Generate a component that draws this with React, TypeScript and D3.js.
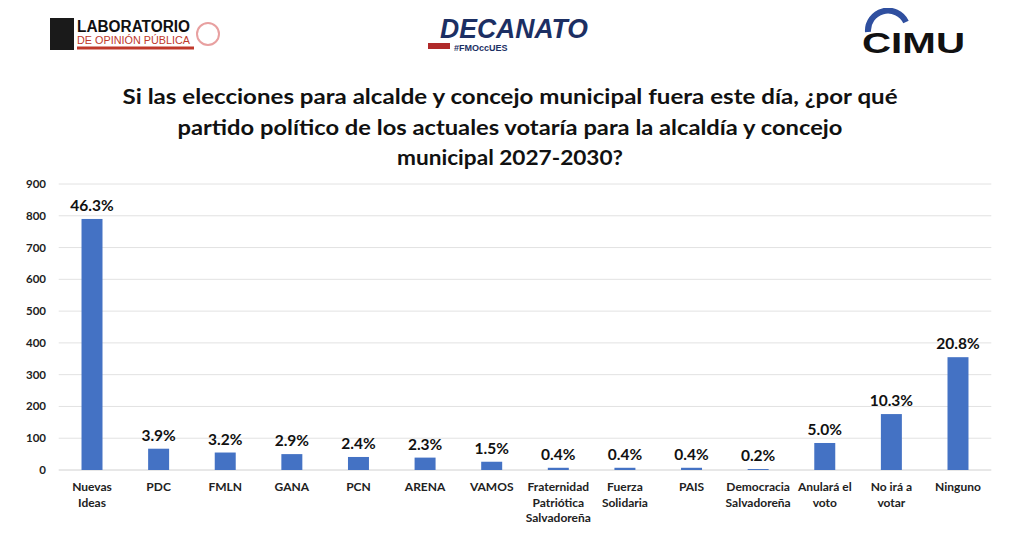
import React, { useEffect, useRef } from 'react';
import * as d3 from 'd3';

const categories: string[][] = [
  ['Nuevas', 'Ideas'],
  ['PDC'],
  ['FMLN'],
  ['GANA'],
  ['PCN'],
  ['ARENA'],
  ['VAMOS'],
  ['Fraternidad', 'Patriótica', 'Salvadoreña'],
  ['Fuerza', 'Solidaria'],
  ['PAIS'],
  ['Democracia', 'Salvadoreña'],
  ['Anulará el', 'voto'],
  ['No irá a', 'votar'],
  ['Ninguno'],
];
const counts = [790, 67, 55, 50, 41, 39, 26, 7, 7, 7, 3, 85, 176, 355];
const percents = ['46.3%', '3.9%', '3.2%', '2.9%', '2.4%', '2.3%', '1.5%', '0.4%', '0.4%', '0.4%', '0.2%', '5.0%', '10.3%', '20.8%'];
const yTicks = [0, 100, 200, 300, 400, 500, 600, 700, 800, 900];
const titleLines = [
  'Si las elecciones para alcalde y concejo municipal fuera este día, ¿por qué',
  'partido político de los actuales votaría para la alcaldía y concejo',
  'municipal 2027-2030?',
];

const W = 1024;
const H = 559;
const FONT = 'Lato, "Open Sans", sans-serif';

const App: React.FC = () => {
  const svgRef = useRef<SVGSVGElement>(null);

  useEffect(() => {
    if (!svgRef.current) return;
    const svg = d3.select(svgRef.current);
    svg.selectAll('*').remove();

    svg.append('rect').attr('width', W).attr('height', H).attr('fill', '#ffffff');

    // logos, roughly sketched
    const lab = svg.append('g');
    lab.append('rect').attr('x', 50).attr('y', 18).attr('width', 24).attr('height', 32).attr('fill', '#1a1a1a');
    lab.append('text').attr('x', 77).attr('y', 32).attr('font-family', 'Liberation Sans, sans-serif')
      .attr('font-weight', 700).attr('font-size', 16).attr('fill', '#111')
      .attr('textLength', 113).attr('lengthAdjust', 'spacingAndGlyphs').text('LABORATORIO');
    lab.append('text').attr('x', 77).attr('y', 44).attr('font-family', 'Liberation Sans, sans-serif')
      .attr('font-size', 11).attr('fill', '#c0392b')
      .attr('textLength', 113).attr('lengthAdjust', 'spacingAndGlyphs').text('DE OPINIÓN PÚBLICA');
    lab.append('rect').attr('x', 77).attr('y', 46.5).attr('width', 117).attr('height', 3).attr('fill', '#c0392b');
    lab.append('circle').attr('cx', 208).attr('cy', 34).attr('r', 11).attr('fill', 'none')
      .attr('stroke', '#e8a0a0').attr('stroke-width', 2);

    const dec = svg.append('g');
    dec.append('text').attr('x', 440).attr('y', 38).attr('font-family', 'Liberation Sans, sans-serif')
      .attr('font-weight', 700).attr('font-style', 'italic').attr('font-size', 28).attr('fill', '#1c2f63')
      .attr('textLength', 148).attr('lengthAdjust', 'spacingAndGlyphs').text('DECANATO');
    dec.append('text').attr('x', 454).attr('y', 51).attr('font-family', 'Liberation Sans, sans-serif')
      .attr('font-weight', 700).attr('font-size', 9).attr('fill', '#1c2f63').text('#FMOccUES');
    dec.append('rect').attr('x', 428).attr('y', 43).attr('width', 22).attr('height', 6).attr('fill', '#b02a2a');

    const cimu = svg.append('g');
    cimu.append('path').attr('d', 'M868,32 A20,20 0 0 1 906,22').attr('fill', 'none')
      .attr('stroke', '#2f4f9f').attr('stroke-width', 6);
    cimu.append('text').attr('x', 862).attr('y', 53).attr('font-family', 'Liberation Sans, sans-serif')
      .attr('font-weight', 700).attr('font-size', 30).attr('fill', '#111')
      .attr('textLength', 103).attr('lengthAdjust', 'spacingAndGlyphs').text('CIMU');

    // title, stretched to the widths seen in the reference
    const titleWidths = [775, 665, 226];
    [104, 135, 165].forEach((yy, i) => {
      svg.append('text').attr('x', 510).attr('y', yy).attr('text-anchor', 'middle')
        .attr('font-family', FONT).attr('font-weight', 700).attr('font-size', 21).attr('fill', '#111')
        .attr('textLength', titleWidths[i]).attr('lengthAdjust', 'spacingAndGlyphs')
        .text(titleLines[i]);
    });

    // chart
    const margin = { left: 58.7, right: W - 991.3, top: 184, bottom: H - 470 };
    const x = d3.scaleBand<number>()
      .domain(counts.map((_, i) => i))
      .range([margin.left, W - margin.right])
      .paddingInner(0.685)
      .paddingOuter(0.3425);
    const y = d3.scaleLinear().domain([0, 900]).range([H - margin.bottom, margin.top]);

    svg.append('g').selectAll('line').data(yTicks).enter().append('line')
      .attr('x1', margin.left).attr('x2', W - margin.right)
      .attr('y1', d => y(d)).attr('y2', d => y(d))
      .attr('stroke', d => (d === 0 ? '#d0d0d0' : '#e2e2e2')).attr('stroke-width', 1);

    svg.append('g').selectAll('text').data(yTicks).enter().append('text')
      .attr('x', 46).attr('y', d => y(d) + 4)
      .attr('text-anchor', 'end').attr('font-family', FONT).attr('font-weight', 700)
      .attr('font-size', 11.5).attr('fill', '#222').text(d => d);

    svg.append('g').selectAll('rect').data(counts).enter().append('rect')
      .attr('x', (_, i) => x(i)!).attr('width', x.bandwidth())
      .attr('y', d => y(d)).attr('height', d => y(0) - y(d))
      .attr('fill', '#4472C4');

    svg.append('g').selectAll('text').data(counts).enter().append('text')
      .attr('x', (_, i) => x(i)! + x.bandwidth() / 2).attr('y', d => y(d) - 8)
      .attr('text-anchor', 'middle').attr('font-family', FONT).attr('font-weight', 700)
      .attr('font-size', 15.5).attr('fill', '#111').text((_, i) => percents[i]);

    const xl = svg.append('g').selectAll('text').data(categories).enter().append('text')
      .attr('text-anchor', 'middle').attr('font-family', FONT).attr('font-weight', 700)
      .attr('font-size', 12).attr('fill', '#222');
    xl.each(function (lines, i) {
      const t = d3.select(this);
      lines.forEach((ln, j) => {
        t.append('tspan').attr('x', x(i)! + x.bandwidth() / 2).attr('y', 491 + j * 15.5).text(ln);
      });
    });
  }, []);

  return <svg ref={svgRef} width={W} height={H} style={{ display: 'block', margin: -8 }} />;
};

export default App;
